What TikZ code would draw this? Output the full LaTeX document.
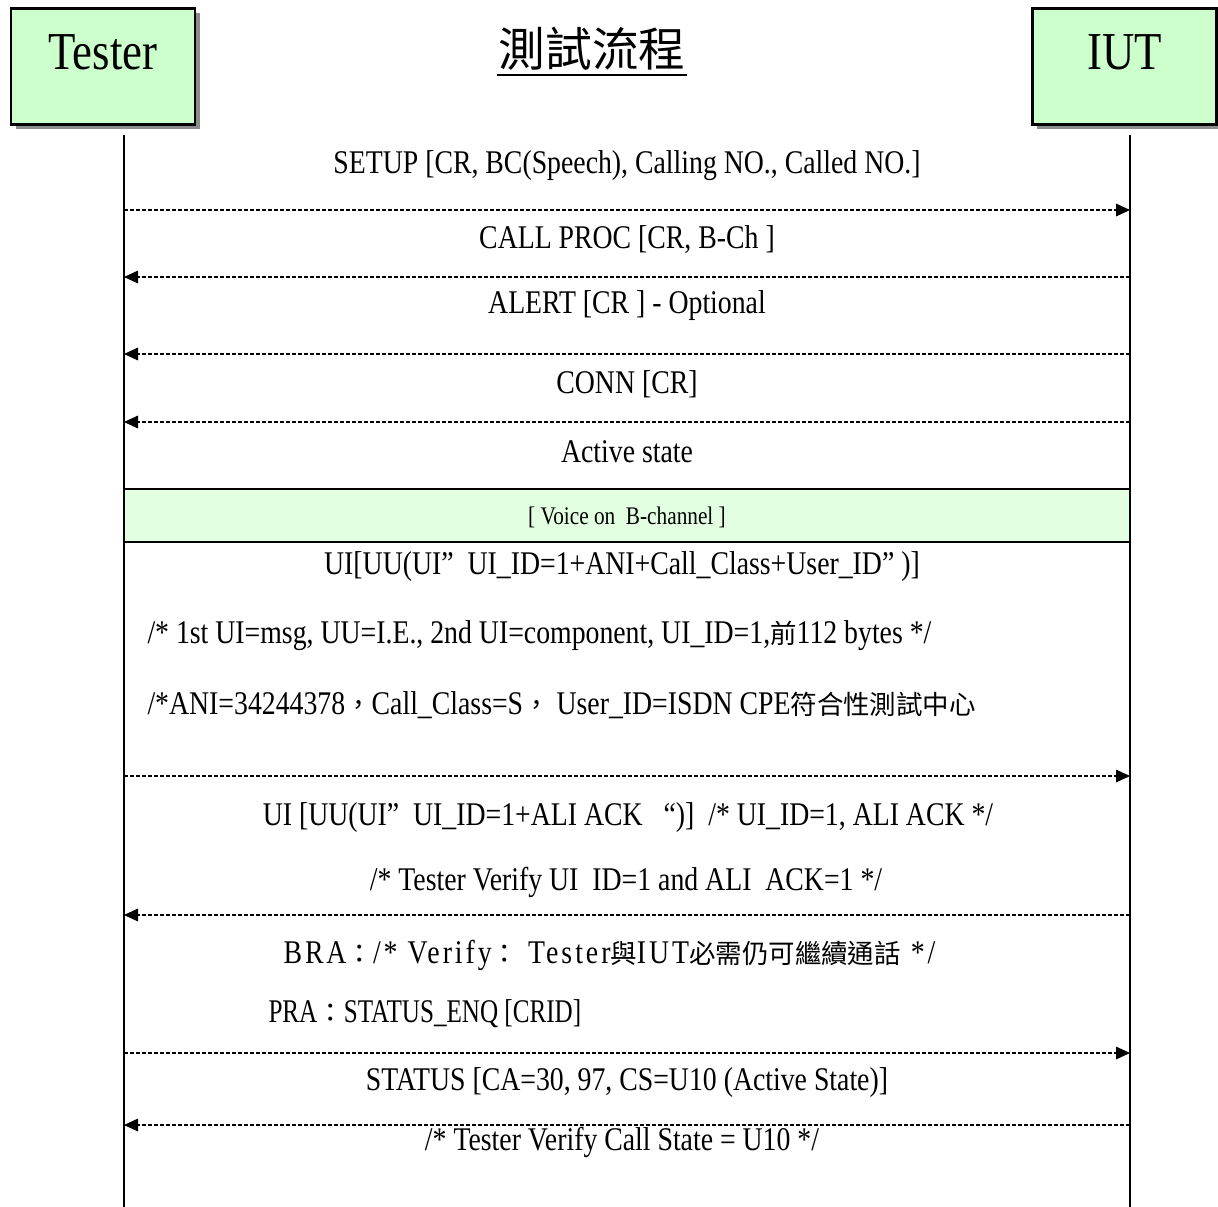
\documentclass[tikz,border=0pt]{standalone}
\usepackage{fontspec}
\setmainfont{Liberation Serif}[FakeStretch=0.84]
\newfontfamily\cjk{Noto Sans CJK TC}[Scale=0.8]
\newfontfamily\cjktitle{Noto Sans CJK TC}
\newfontfamily\spaced{Liberation Serif}[FakeStretch=0.84,LetterSpace=9]
\newfontfamily\narrow{Liberation Serif}[FakeStretch=0.76]
\usetikzlibrary{arrows.meta,shadows}

\definecolor{boxgreen}{RGB}{204,255,204}
\definecolor{bandgreen}{RGB}{226,255,226}

\tikzset{every picture/.style={line width=0.75pt}}
\tikzset{
  actorbox/.style={draw,line width=1.6pt,fill=boxgreen,minimum width=138pt,minimum height=87pt,inner sep=0pt,
    drop shadow={shadow xshift=3.5pt,shadow yshift=-3.5pt,fill=gray!90,opacity=1}},
  actortxt/.style={font=\fontsize{40}{40}\selectfont},
  lifeline/.style={line width=1.3pt},
  msg/.style={dash pattern=on 3pt off 1.5pt,line width=0.8pt,-{Triangle[length=10.5pt,width=9.5pt]}},
  lbl/.style={font=\fontsize{24.8}{24.8}\selectfont,inner sep=0pt},
}

\begin{document}
\begin{tikzpicture}[x=0.75pt,y=0.75pt,yscale=-1,xscale=1]
\useasboundingbox (0,0) rectangle (1218,1207);

% Actors
\node[actorbox] (tester) at (103,66.5) {};
\node[actortxt] (testerlbl) at (103,52) {Tester};
\node[actorbox] (iut) at (1124.5,66.5) {};
\node[actortxt] (iutlbl) at (1124.5,52) {IUT};
% Title
\node[font=\fontsize{35}{35}\selectfont\cjktitle,inner sep=0pt] (title) at (592,49) {測試流程};
\draw[line width=1.3pt] ([xshift=-1pt]title.south west) ++(0,4) coordinate (ulA) -- ([xshift=1pt]title.south east |- ulA) coordinate (ulB);

% Lifelines
\coordinate (T0) at (124,135);
\coordinate (T9) at (124,1207);
\coordinate (I0) at (1130,135);
\coordinate (I9) at (1130,1207);
\draw[lifeline] (T0) -- (T9);
\draw[lifeline] (I0) -- (I9);

% Text Node
\node[lbl] (setup) at (627,166) {SETUP [CR, BC(Speech), Calling NO., Called NO.]};
% Arrow
\coordinate (T1) at (124,210); \coordinate (I1) at (1130,210);
\draw[msg] (T1) -- (I1);
% Text Node
\node[lbl] (callproc) at (627,240) {CALL PROC [CR, B-Ch ]};
% Arrow
\coordinate (T2) at (124,277); \coordinate (I2) at (1130,277);
\draw[msg] (I2) -- (T2);
% Text Node
\node[lbl] (alert) at (627,306) {ALERT [CR ] - Optional};
% Arrow
\coordinate (T3) at (124,354); \coordinate (I3) at (1130,354);
\draw[msg] (I3) -- (T3);
% Text Node
\node[lbl] (conn) at (627,384) {CONN [CR]};
% Arrow
\coordinate (T4) at (124,422); \coordinate (I4) at (1130,422);
\draw[msg] (I4) -- (T4);
% Text Node
\node[lbl] (active) at (627,452) {Active state};

% Voice band
\draw[line width=1.5pt,fill=bandgreen] (124,489) rectangle (1130,542);
\node[font=\fontsize{19}{19}\selectfont,inner sep=0pt] (voice) at (627,517) {[ Voice on~ B-channel ]};

% Text Node
\node[lbl] (ui1) at (622,567) {UI[UU(UI”~ UI\_ID=1+ANI+Call\_Class+User\_ID”~)]};
\node[lbl,anchor=west] (ui1a) at (147,636) {/* 1st UI=msg, UU=I.E., 2nd UI=component, UI\_ID=1,{\cjk 前}112 bytes */};
\node[lbl,anchor=west] (ui1b) at (147,705) {/*ANI=34244378{\cjk ，}Call\_Class=S{\cjk ，} User\_ID=ISDN CPE{\cjk 符合性測試中心}};
% Arrow
\coordinate (T5) at (124,776); \coordinate (I5) at (1130,776);
\draw[msg] (T5) -- (I5);
% Text Node
\node[lbl] (ui2) at (628,818) {UI [UU(UI”~ UI\_ID=1+ALI ACK~~ “)]~ /* UI\_ID=1, ALI ACK */};
\node[lbl] (ui2a) at (626,882) {/* Tester Verify UI~ ID=1 and ALI~ ACK=1 */};
% Arrow
\coordinate (T6) at (124,915); \coordinate (I6) at (1130,915);
\draw[msg] (I6) -- (T6);
% Text Node
\node[lbl,anchor=west] (bra) at (283,955) {\spaced BRA{\cjk ：}/* Verify{\cjk ：} Tester{\cjk 與}IUT{\cjk 必需仍可繼續通話} */};
\node[lbl,anchor=west] (pra) at (268,1014) {\narrow PRA{\cjk ：}STATUS\_ENQ [CRID]};
% Arrow
\coordinate (T7) at (124,1053); \coordinate (I7) at (1130,1053);
\draw[msg] (T7) -- (I7);
% Text Node
\node[lbl] (status) at (627,1083) {STATUS [CA=30, 97, CS=U10 (Active State)]};
% Arrow
\coordinate (T8) at (124,1125); \coordinate (I8) at (1130,1125);
\draw[msg] (I8) -- (T8);
% Text Node
\node[lbl] (verify) at (622,1142) {/* Tester Verify Call State = U10 */};

\end{tikzpicture}
\end{document}
